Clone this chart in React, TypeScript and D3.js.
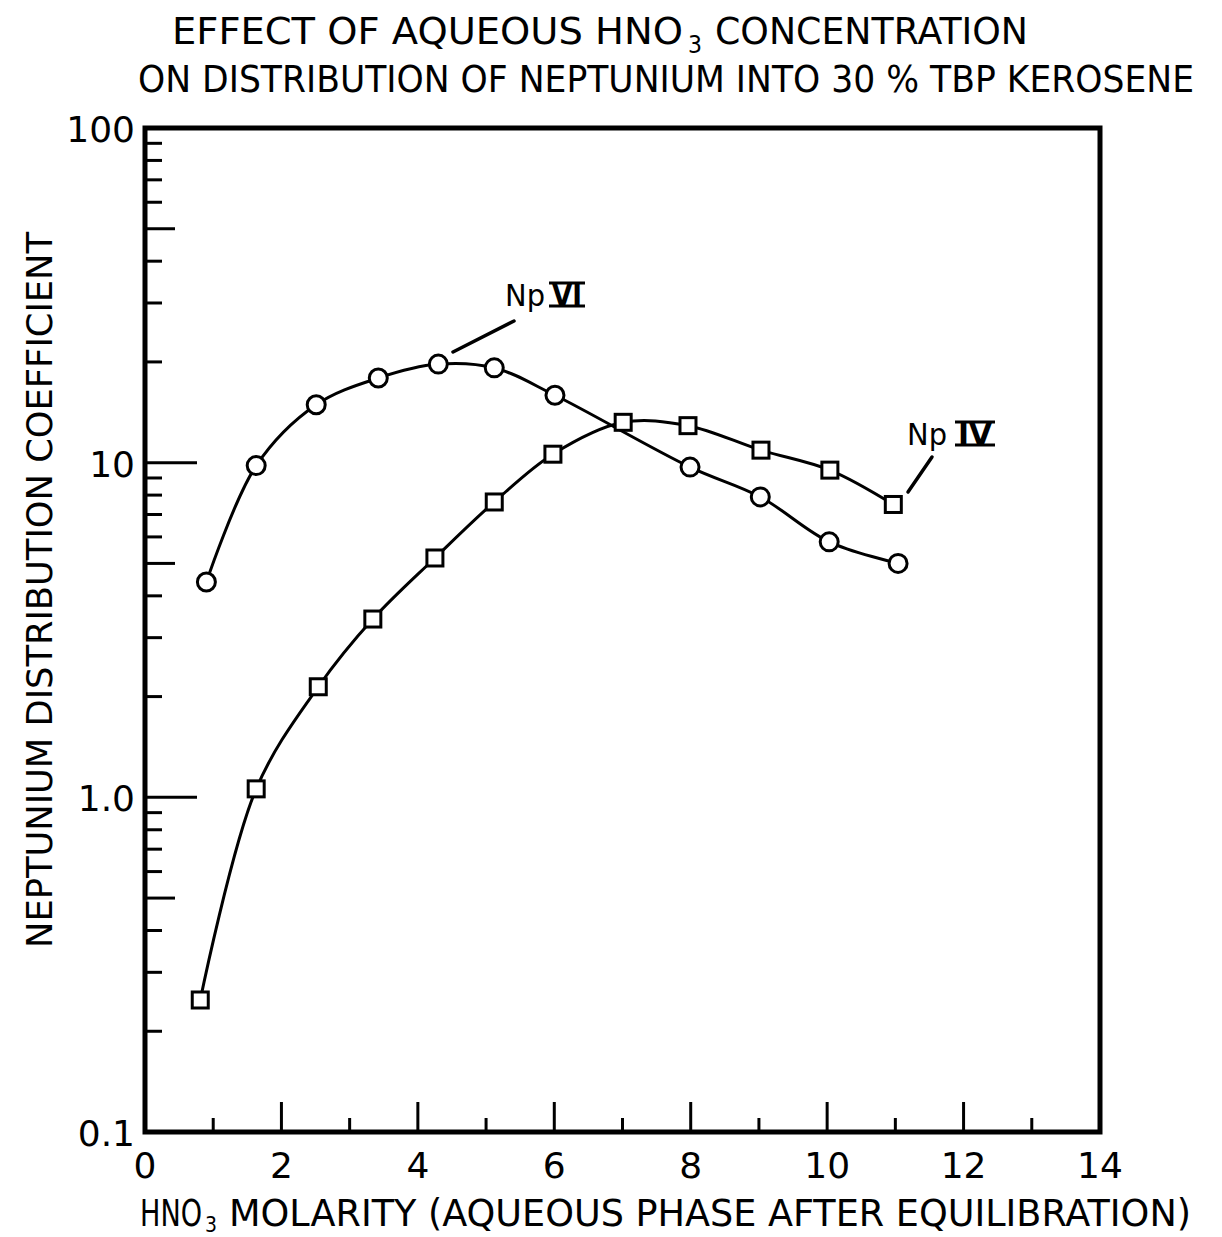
import React, { useRef, useEffect } from "react";
import * as d3 from "d3";

// HNO3 molarity vs distribution coefficient
const npVIx = [0.9, 1.63, 2.51, 3.42, 4.3, 5.12, 6.01, 7.99, 9.02, 10.03, 11.04];
const npVIy = [4.4, 9.8, 14.9, 17.9, 19.7, 19.2, 15.9, 9.7, 7.9, 5.8, 5.0];
const npIVx = [0.81, 1.63, 2.54, 3.34, 4.25, 5.12, 5.98, 7.01, 7.96, 9.03, 10.04, 10.97];
const npIVy = [0.248, 1.06, 2.14, 3.41, 5.19, 7.63, 10.6, 13.2, 12.9, 10.9, 9.5, 7.5];
const xTickLabels = [0, 2, 4, 6, 8, 10, 12, 14];
const yTickLabels = [
  { v: 100, t: "100" },
  { v: 10, t: "10" },
  { v: 1, t: "1.0" },
  { v: 0.1, t: "0.1" }
];

const FONT = "'DejaVu Sans', sans-serif";

function App() {
  const SVG = useRef(null);

  useEffect(() => {
    const svg = d3.select(SVG.current);
    svg.selectAll("*").remove();

    const x = d3.scaleLinear().domain([0, 14]).range([145, 1100]);
    const y = d3.scaleLog().domain([0.1, 100]).range([1132, 128]);

    const txt = (s, px, py, len, size, anchor = "start") => {
      const t = svg
        .append("text")
        .attr("x", px)
        .attr("y", py)
        .attr("font-family", FONT)
        .attr("font-size", size)
        .attr("fill", "#000")
        .attr("text-anchor", anchor)
        .text(s);
      if (len) t.attr("textLength", len).attr("lengthAdjust", "spacingAndGlyphs");
      return t;
    };

    // title
    txt("EFFECT OF AQUEOUS HNO", 172, 44, 511, 37);
    txt("3", 688, 53, 14, 24);
    txt("CONCENTRATION", 715, 44, 313, 37);
    txt("ON DISTRIBUTION OF NEPTUNIUM INTO 30 % TBP KEROSENE", 138, 92, 1056, 37);

    // axis ticks (left: log ticks, bottom: integer ticks)
    const g = svg.append("g").attr("stroke", "#000");
    d3.range(-1, 2).forEach(e => {
      d3.range(1, 10).forEach(m => {
        const v = m * Math.pow(10, e);
        if (v <= 0.1) return;
        const len = m === 1 ? 52 : m === 5 ? 30 : 17;
        g.append("line")
          .attr("x1", x(0))
          .attr("x2", x(0) + len)
          .attr("y1", y(v))
          .attr("y2", y(v))
          .attr("stroke-width", 3);
      });
    });
    d3.range(1, 14).forEach(i => {
      const len = i % 2 === 0 ? 30 : 14;
      g.append("line")
        .attr("x1", x(i))
        .attr("x2", x(i))
        .attr("y1", y(0.1))
        .attr("y2", y(0.1) - len)
        .attr("stroke-width", 3);
    });

    // frame
    svg
      .append("rect")
      .attr("x", x(0))
      .attr("y", y(100))
      .attr("width", x(14) - x(0))
      .attr("height", y(0.1) - y(100))
      .attr("fill", "none")
      .attr("stroke", "#000")
      .attr("stroke-width", 5);

    // tick labels
    xTickLabels.forEach(v => txt(String(v), x(v), 1178, null, 36, "middle"));
    yTickLabels.forEach(d => txt(d.t, 135, y(d.v) + 14, null, 36, "end"));

    // axis titles
    txt("HNO", 140, 1226, 62, 37);
    txt("3", 205, 1232, 12, 22);
    txt("MOLARITY (AQUEOUS PHASE AFTER EQUILIBRATION)", 229, 1226, 962, 37);
    txt("NEPTUNIUM DISTRIBUTION COEFFICIENT", 0, 0, 716, 36, "middle").attr(
      "transform",
      "translate(52,590) rotate(-90)"
    );

    // curves
    const line = d3
      .line()
      .x(d => x(d[0]))
      .y(d => y(d[1]))
      .curve(d3.curveCatmullRom.alpha(0.5));
    const vi = d3.zip(npVIx, npVIy);
    const iv = d3.zip(npIVx, npIVy);
    [vi, iv].forEach(pts =>
      svg
        .append("path")
        .attr("d", line(pts))
        .attr("fill", "none")
        .attr("stroke", "#000")
        .attr("stroke-width", 3)
    );

    svg
      .selectAll("circle.vi")
      .data(vi)
      .enter()
      .append("circle")
      .attr("cx", d => x(d[0]))
      .attr("cy", d => y(d[1]))
      .attr("r", 9)
      .attr("fill", "#fff")
      .attr("stroke", "#000")
      .attr("stroke-width", 3);
    svg
      .selectAll("rect.iv")
      .data(iv)
      .enter()
      .append("rect")
      .attr("x", d => x(d[0]) - 8)
      .attr("y", d => y(d[1]) - 8)
      .attr("width", 16)
      .attr("height", 16)
      .attr("fill", "#fff")
      .attr("stroke", "#000")
      .attr("stroke-width", 3);

    // labels with leader lines
    const label = (roman, px, py, rx, rw, lx1, ly1, lx2, ly2) => {
      txt("Np", px, py, 40, 30);
      txt(roman, rx + rw / 2, py, rw - 6, 30, "middle").attr("font-weight", "bold");
      svg
        .append("line")
        .attr("x1", rx)
        .attr("x2", rx + rw)
        .attr("y1", py - 23)
        .attr("y2", py - 23)
        .attr("stroke", "#000")
        .attr("stroke-width", 3);
      svg
        .append("line")
        .attr("x1", rx)
        .attr("x2", rx + rw)
        .attr("y1", py)
        .attr("y2", py)
        .attr("stroke", "#000")
        .attr("stroke-width", 3);
      svg
        .append("line")
        .attr("x1", lx1)
        .attr("y1", ly1)
        .attr("x2", lx2)
        .attr("y2", ly2)
        .attr("stroke", "#000")
        .attr("stroke-width", 3.5)
        .attr("stroke-linecap", "round");
    };
    label("VI", 505, 306, 549, 36, 453, 352, 514, 321);
    label("IV", 907, 445, 955, 40, 908, 492, 932, 457);
  }, []);

  return (
    <svg
      ref={SVG}
      width={1222}
      height={1237}
      style={{ position: "absolute", left: 0, top: 0, background: "#fff" }}
    />
  );
}

export default App;
